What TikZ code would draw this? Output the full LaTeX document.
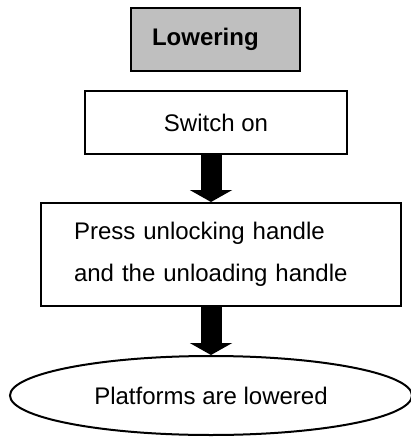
\documentclass[tikz,border=0pt]{standalone}
\usepackage{fontspec}
\setmainfont{Liberation Sans}
\usetikzlibrary{arrows.meta,shapes.geometric}

\begin{document}
\begin{tikzpicture}[x=0.5pt,y=-0.5pt,
	box/.style={draw,line width=1pt,font=\fontsize{12}{14}\selectfont},
	downarrow/.style={line width=10.5pt,-{Triangle[width=21pt,length=6pt]}}]
	\useasboundingbox (0,0) rectangle (411,438);
	\node[box,fill=black!25,minimum width=84.5pt,minimum height=31.5pt,inner xsep=10.5pt,text width=63.5pt,align=left,font=\fontsize{12}{14}\selectfont\bfseries] (lowering) at (215.5,39.5) {Lowering};
	\node[box,minimum width=131pt,minimum height=31.5pt] (switch) at (216,122.5) {Switch on};
	\node[box,minimum width=180pt,minimum height=51.5pt,inner xsep=16.5pt,text width=147pt,align=left,font=\fontsize{12}{21}\selectfont] (press) at (221,254.5) {Press unlocking handle\\and the unloading handle};
	\node[box,ellipse,minimum width=201pt,minimum height=39.5pt] (lowered) at (211,395.5) {Platforms are lowered};
	\draw[downarrow] (switch.south -| lowered.north) -- (press.north -| lowered.north);
	\draw[downarrow] (press.south -| lowered.north) -- (lowered.north);
\end{tikzpicture}
\end{document}
